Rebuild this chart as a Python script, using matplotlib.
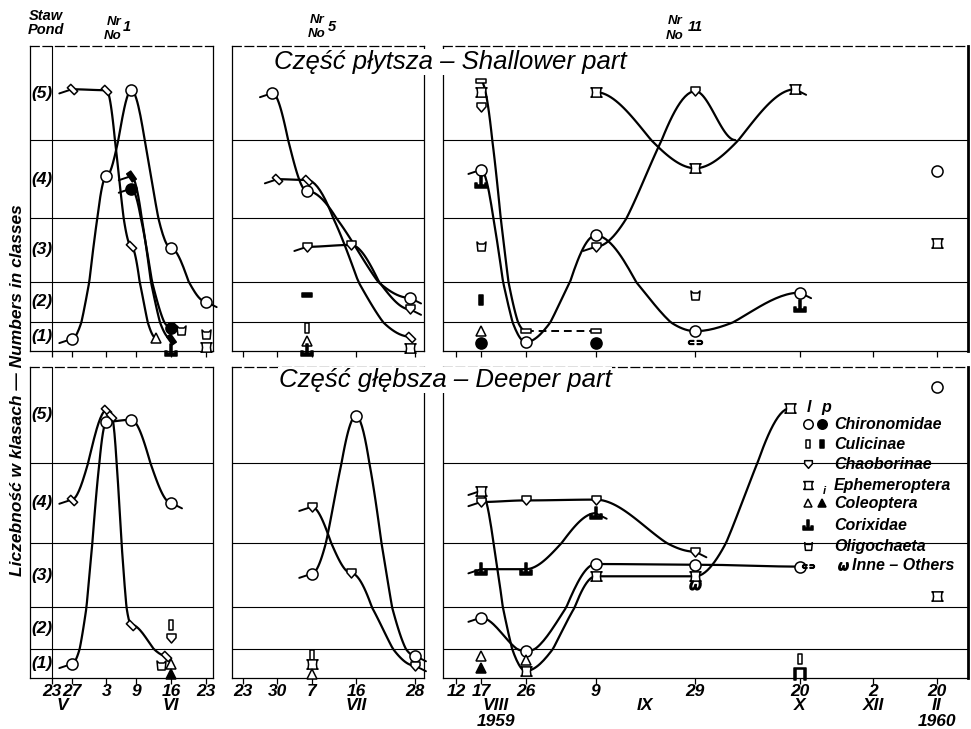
import numpy as np
import pandas as pd
import matplotlib
matplotlib.use("Agg")
import matplotlib.pyplot as plt
from matplotlib.path import Path
from matplotlib.markers import MarkerStyle
from matplotlib.transforms import Affine2D, blended_transform_factory

plt.rcParams['font.family'] = ['Liberation Sans', 'DejaVu Sans']

W, H = 971, 729
BASE = pd.Timestamp("1959-01-01")

# ---------------------------------------------------------------- data
CLASS_LABELS = ["(1)", "(2)", "(3)", "(4)", "(5)"]
CLASS_VALUES = [1, 2, 3, 4, 5]

# x tick dates / labels
p1_tick_dates = ["1959-05-23", "1959-05-27", "1959-06-03", "1959-06-09", "1959-06-16", "1959-06-23"]
p1_tick_labels = ["23", "27", "3", "9", "16", "23"]
p1_month_dates = ["1959-05-25", "1959-06-16"]
p1_month_labels = ["V", "VI"]
p5_tick_dates = ["1959-06-23", "1959-06-30", "1959-07-07", "1959-07-16", "1959-07-28"]
p5_tick_labels = ["23", "30", "7", "16", "28"]
p5_month_dates = ["1959-07-16"]
p5_month_labels = ["VII"]
p11_tick_dates = ["1959-08-12", "1959-08-17", "1959-08-26", "1959-09-09", "1959-09-29",
                  "1959-10-20", "1959-12-02", "1960-02-20"]
p11_tick_labels = ["12", "17", "26", "9", "29", "20", "2", "20"]
p11_month_dates = ["1959-08-20", "1959-09-19", "1959-10-20", "1959-12-02", "1960-02-20"]
p11_month_labels = ["VIII", "IX", "X", "XII", "II"]
p11_year_dates = ["1959-08-20", "1960-02-20"]
p11_year_labels = ["1959", "1960"]

# ---- Pond 1, shallower part
p1t_chiro_l_dates = ["1959-05-27", "1959-06-03", "1959-06-08", "1959-06-16", "1959-06-23"]
p1t_chiro_l_vals = [0.92, 4.04, 5.03, 3.03, 2.01]
p1t_chiro_p_dates = ["1959-06-08", "1959-06-16"]
p1t_chiro_p_vals = [3.88, 1.31]
p1t_culi_l_dates = ["1959-05-27", "1959-06-03", "1959-06-08", "1959-06-13"]
p1t_culi_l_vals = [5.04, 5.03, 3.06, 0.95]
p1t_culi_p_dates = ["1959-06-08", "1959-06-16"]
p1t_culi_p_vals = [4.04, 0.92]
p1t_pts_species = ["coleo_l", "oligo", "oligo", "ephem", "corix"]
p1t_pts_dates = ["1959-06-13", "1959-06-18", "1959-06-23", "1959-06-23", "1959-06-16"]
p1t_pts_vals = [0.95, 1.23, 1.10, 0.65, 0.55]

# ---- Pond 1, deeper part
p1b_chiro_l_dates = ["1959-05-27", "1959-06-03", "1959-06-08", "1959-06-16"]
p1b_chiro_l_vals = [0.98, 4.93, 4.95, 4.0]
p1b_culi_l_dates = ["1959-05-27", "1959-06-03", "1959-06-04", "1959-06-08", "1959-06-15"]
p1b_culi_l_vals = [4.04, 5.05, 4.99, 2.08, 1.26]
p1b_pts_species = ["oligo", "culi_l", "chaob", "coleo_l", "coleo_p"]
p1b_pts_dates = ["1959-06-14", "1959-06-16", "1959-06-16", "1959-06-16", "1959-06-16"]
p1b_pts_vals = [0.95, 2.08, 1.75, 0.98, 0.65]

# ---- Pond 5, shallower part
p5t_chiro_l_dates = ["1959-06-29", "1959-07-06", "1959-07-27"]
p5t_chiro_l_vals = [5.0, 3.85, 2.1]
p5t_culi_l_dates = ["1959-06-30", "1959-07-06", "1959-07-27"]
p5t_culi_l_vals = [4.0, 3.99, 1.0]
p5t_chaob_dates = ["1959-07-06", "1959-07-15", "1959-07-27"]
p5t_chaob_vals = [3.05, 3.08, 1.82]
p5t_pts_species = ["culi_ph", "culi_l", "coleo_l", "corix", "ephem"]
p5t_pts_dates = ["1959-07-06", "1959-07-06", "1959-07-06", "1959-07-06", "1959-07-27"]
p5t_pts_vals = [2.16, 1.30, 0.85, 0.55, 0.60]

# ---- Pond 5, deeper part
p5b_chiro_l_dates = ["1959-07-07", "1959-07-16", "1959-07-28"]
p5b_chiro_l_vals = [3.02, 4.99, 1.26]
p5b_chaob_dates = ["1959-07-07", "1959-07-15", "1959-07-28"]
p5b_chaob_vals = [3.95, 3.03, 0.92]
p5b_pts_species = ["culi_l", "ephem", "coleo_l"]
p5b_pts_dates = ["1959-07-07", "1959-07-07", "1959-07-07"]
p5b_pts_vals = [1.29, 0.98, 0.65]

# ---- Pond 11, shallower part
p11t_chiro_l_dates = ["1959-08-17", "1959-08-26", "1959-09-09", "1959-09-29", "1959-10-20"]
p11t_chiro_l_vals = [4.12, 0.81, 3.23, 1.19, 2.23]
p11t_culi_l_dates = ["1959-08-17", "1959-08-26", "1959-09-09"]
p11t_culi_l_vals = [5.13, 1.19, 1.19]
p11t_ephem_dates = ["1959-09-09", "1959-09-29", "1959-10-19"]
p11t_ephem_vals = [5.01, 4.14, 5.04]
p11t_chaob_dates = ["1959-09-09", "1959-09-29", "1959-10-07"]
p11t_chaob_vals = [3.05, 5.02, 4.5]
p11t_pts_species = ["ephem", "chaob", "corix", "oligo", "culi_p", "coleo_l", "chiro_p",
                    "chiro_p", "oligo", "oth_c", "corix", "chiro_l", "ephem"]
p11t_pts_dates = ["1959-08-17", "1959-08-17", "1959-08-17", "1959-08-17", "1959-08-17",
                  "1959-08-17", "1959-08-17", "1959-09-09", "1959-09-29", "1959-09-29",
                  "1959-10-20", "1960-02-20", "1960-02-20"]
p11t_pts_vals = [5.01, 4.85, 3.96, 3.06, 2.06, 1.19, 0.77, 0.77, 2.16, 0.80, 1.91, 4.11, 3.11]

# ---- Pond 11, deeper part
p11b_ephem_dates = ["1959-08-17", "1959-08-26", "1959-09-09", "1959-09-29", "1959-10-18"]
p11b_ephem_vals = [4.15, 0.74, 2.98, 2.98, 5.07]
p11b_chaob_dates = ["1959-08-17", "1959-08-26", "1959-09-09", "1959-09-29"]
p11b_chaob_vals = [4.01, 4.03, 4.04, 3.36]
p11b_corix_dates = ["1959-08-17", "1959-08-26", "1959-09-09"]
p11b_corix_vals = [3.09, 3.09, 3.87]
p11b_chiro_l_dates = ["1959-08-17", "1959-08-26", "1959-09-09", "1959-09-29", "1959-10-20"]
p11b_chiro_l_vals = [2.25, 1.41, 3.17, 3.16, 3.13]
p11b_pts_species = ["coleo_l", "coleo_p", "coleo_l", "oth_w", "culi_l", "oth_n", "chiro_l", "ephem"]
p11b_pts_dates = ["1959-08-17", "1959-08-17", "1959-08-26", "1959-09-29", "1959-10-20",
                  "1959-10-20", "1960-02-20", "1960-02-20"]
p11b_pts_vals = [1.26, 0.83, 1.10, 2.84, 1.14, 0.65, 5.29, 2.68]

LEGEND_NAMES = ["Chironomidae", "Culicinae", "Chaoborinae", "Ephemeroptera",
                "Coleoptera", "Corixidae", "Oligochaeta", "Inne – Others"]
LEGEND_L = ["chiro_l", "culi_l", "chaob", "ephem", "coleo_l", "corix", "oligo", "oth_c"]
LEGEND_P = ["chiro_p", "culi_p", None, None, "coleo_p", None, None, "oth_w"]


# ---------------------------------------------------------------- helpers
def days(dates):
    return np.array([(pd.Timestamp(s) - BASE).days for s in dates], float)


RECT = Path([(-0.5, -1), (0.5, -1), (0.5, 1), (-0.5, 1), (-0.5, -1)], closed=True)
SHIELD = Path([(-1, 1), (1, 1), (1, 0.15), (0, -1), (-1, 0.15), (-1, 1)], closed=True)
SPOOL = Path([(-1.2, 1), (1.2, 1), (0.95, 0.75), (0.85, 0), (0.95, -0.75), (1.2, -1),
              (-1.2, -1), (-0.95, -0.75), (-0.85, 0), (-0.95, 0.75), (-1.2, 1)], closed=True)
CUP = Path([(-1, 1), (-0.55, 0.55), (0.55, 0.55), (1, 1), (0.8, -1), (-0.8, -1), (-1, 1)],
           closed=True)
CORIX = Path([(-1, -1), (1, -1), (1, -0.15), (0.72, -0.15), (0.72, -0.55), (0.2, -0.55),
              (0.2, 1), (-0.2, 1), (-0.2, -0.55), (-0.72, -0.55), (-0.72, -0.15),
              (-1, -0.15), (-1, -1)], closed=True)

STYLE = {
    'chiro_l': ('o', 8.0, 'white', 0),
    'chiro_p': ('o', 8.0, 'black', 0),
    'culi_l': (RECT, 7.0, 'white', 0),
    'culi_p': (RECT, 7.0, 'black', 0),
    'culi_lh': (RECT, 7.0, 'white', 90),
    'culi_ph': (RECT, 7.0, 'black', 90),
    'chaob': (SHIELD, 6.5, 'white', 0),
    'ephem': (SPOOL, 8.0, 'white', 0),
    'coleo_l': ('^', 7.5, 'white', 0),
    'coleo_p': ('^', 7.5, 'black', 0),
    'corix': (CORIX, 8.0, 'black', 0),
    'oligo': (CUP, 6.5, 'white', 0),
    'oth_c': (r'$\subset\!\supset$', 10.0, 'black', 0),
    'oth_w': (r'$\omega$', 8.0, 'black', 0),
    'oth_n': (r'$\sqcap$', 9.0, 'black', 0),
}


def marker(sp, rot=None):
    m, s, fc, r = STYLE[sp]
    ang = r if rot is None else rot
    if ang:
        ms = MarkerStyle(m, transform=Affine2D().rotate_deg(ang))
    else:
        ms = MarkerStyle(m)
    return ms, s, fc


def plot_points(ax, species, xs, ys, rot=None, size_scale=1.0):
    for sp, x, y in zip(species, xs, ys):
        ms, s, fc = marker(sp, rot)
        ax.plot([x], [y], linestyle='none', marker=ms, markersize=s * size_scale,
                markerfacecolor=fc, markeredgecolor='black', markeredgewidth=1.1,
                zorder=6, clip_on=False)


def smooth(x, y, n=40):
    xs, ys = [x[0]], [y[0]]
    t = np.linspace(0, 1, n)[1:]
    s = t * t * (3 - 2 * t)
    for i in range(len(x) - 1):
        xs.extend(x[i] + (x[i + 1] - x[i]) * t)
        ys.extend(y[i] + (y[i + 1] - y[i]) * s)
    return np.array(xs), np.array(ys)


def tail(ax, x, y, dx, dy):
    ax.annotate('', xy=(x, y), xycoords='data', xytext=(dx, dy), textcoords='offset points',
                arrowprops=dict(arrowstyle='-', lw=1.4, color='black', shrinkA=0, shrinkB=0),
                zorder=3)


def draw_series(ax, sp, dates, vals, tails=(False, False), rot=None, nmark=None,
                dash_from=None):
    x = days(dates)
    y = np.asarray(vals, float)
    if dash_from is None:
        cx, cy = smooth(x, y)
        ax.plot(cx, cy, color='black', lw=1.6, zorder=3, solid_capstyle='round')
    else:
        cx, cy = smooth(x[:dash_from + 1], y[:dash_from + 1])
        ax.plot(cx, cy, color='black', lw=1.6, zorder=3)
        ax.plot(x[dash_from:], y[dash_from:], color='black', lw=1.4, ls=(0, (4, 2.5)),
                zorder=3)
    if tails[0]:
        tail(ax, x[0], y[0], -9, -3)
    if tails[1]:
        tail(ax, x[-1], y[-1], 8, -4)
    k = len(x) if nmark is None else nmark
    plot_points(ax, [sp] * k, x[:k], y[:k], rot=rot)


# ---------------------------------------------------------------- figure
fig = plt.figure(figsize=(W / 100, H / 100), dpi=100)
fig.patch.set_facecolor('white')

COLS = [(30, 213), (232, 424), (443, 968)]
ROWS = [(46, 351), (367, 678)]

EDGE_VALS = [0.5, 1.5, 2.5, 3.5, 4.5, 5.5]
EDGE_POS = [0, 29, 70, 134, 213, 308]


def yf(v):
    return np.interp(v, EDGE_VALS, EDGE_POS)


def yi(p):
    return np.interp(p, EDGE_POS, EDGE_VALS)


P11_DAYS = [220.4, 292.0, 335.0, 415.0, 454.0]
P11_POS = [443.0, 800.0, 873.0, 937.0, 968.0]


def xf(d):
    return np.interp(d, P11_DAYS, P11_POS)


def xi(p):
    return np.interp(p, P11_POS, P11_DAYS)


XLIMS = [(137.56, 174.5), (170.76, 209.86), (220.4, 454.0)]
TICKS = [(p1_tick_dates, p1_tick_labels), (p5_tick_dates, p5_tick_labels),
         (p11_tick_dates, p11_tick_labels)]
MONTHS = [(p1_month_dates, p1_month_labels), (p5_month_dates, p5_month_labels),
          (p11_month_dates, p11_month_labels)]

LINES = {
    (0, 0): [dict(sp='chiro_l', dates=p1t_chiro_l_dates, vals=p1t_chiro_l_vals, tails=(1, 1)),
             dict(sp='chiro_p', dates=p1t_chiro_p_dates, vals=p1t_chiro_p_vals, tails=(1, 0)),
             dict(sp='culi_l', dates=p1t_culi_l_dates, vals=p1t_culi_l_vals, tails=(1, 0),
                  rot=45, nmark=3),
             dict(sp='culi_p', dates=p1t_culi_p_dates, vals=p1t_culi_p_vals, tails=(1, 0),
                  rot=35)],
    (1, 0): [dict(sp='chiro_l', dates=p1b_chiro_l_dates, vals=p1b_chiro_l_vals, tails=(1, 1)),
             dict(sp='culi_l', dates=p1b_culi_l_dates, vals=p1b_culi_l_vals, tails=(1, 0),
                  rot=45)],
    (0, 1): [dict(sp='chiro_l', dates=p5t_chiro_l_dates, vals=p5t_chiro_l_vals, tails=(1, 1)),
             dict(sp='culi_l', dates=p5t_culi_l_dates, vals=p5t_culi_l_vals, tails=(1, 0),
                  rot=45),
             dict(sp='chaob', dates=p5t_chaob_dates, vals=p5t_chaob_vals, tails=(1, 1))],
    (1, 1): [dict(sp='chiro_l', dates=p5b_chiro_l_dates, vals=p5b_chiro_l_vals, tails=(1, 1)),
             dict(sp='chaob', dates=p5b_chaob_dates, vals=p5b_chaob_vals, tails=(1, 1))],
    (0, 2): [dict(sp='chiro_l', dates=p11t_chiro_l_dates, vals=p11t_chiro_l_vals, tails=(1, 1)),
             dict(sp='culi_lh', dates=p11t_culi_l_dates, vals=p11t_culi_l_vals, dash_from=1),
             dict(sp='ephem', dates=p11t_ephem_dates, vals=p11t_ephem_vals, tails=(0, 1)),
             dict(sp='chaob', dates=p11t_chaob_dates, vals=p11t_chaob_vals, tails=(1, 0),
                  nmark=2)],
    (1, 2): [dict(sp='ephem', dates=p11b_ephem_dates, vals=p11b_ephem_vals, tails=(1, 0)),
             dict(sp='chaob', dates=p11b_chaob_dates, vals=p11b_chaob_vals, tails=(1, 1)),
             dict(sp='corix', dates=p11b_corix_dates, vals=p11b_corix_vals, tails=(1, 1)),
             dict(sp='chiro_l', dates=p11b_chiro_l_dates, vals=p11b_chiro_l_vals, tails=(1, 0))],
}
POINTS = {
    (0, 0): (p1t_pts_species, p1t_pts_dates, p1t_pts_vals),
    (1, 0): (p1b_pts_species, p1b_pts_dates, p1b_pts_vals),
    (0, 1): (p5t_pts_species, p5t_pts_dates, p5t_pts_vals),
    (1, 1): (p5b_pts_species, p5b_pts_dates, p5b_pts_vals),
    (0, 2): (p11t_pts_species, p11t_pts_dates, p11t_pts_vals),
    (1, 2): (p11b_pts_species, p11b_pts_dates, p11b_pts_vals),
}

TICKFONT = dict(family=['Liberation Sans', 'DejaVu Sans'], style='italic', weight='bold',
                size=12.5)

for r, (y0, y1) in enumerate(ROWS):
    for c, (x0, x1) in enumerate(COLS):
        ax = fig.add_axes([x0 / W, 1 - y1 / H, (x1 - x0) / W, (y1 - y0) / H])
        ax.set_yscale('function', functions=(yf, yi))
        if c == 2:
            ax.set_xscale('function', functions=(xf, xi))
        ax.set_xlim(*XLIMS[c])
        ax.set_ylim(0.5, 5.5)
        ax.set_yticks([])
        for sname, sp in ax.spines.items():
            sp.set_linewidth(0.9)
        ax.spines['top'].set_linestyle((0, (7, 3)))
        if c == 2:
            ax.spines['right'].set_linewidth(2.0)
        for e in EDGE_VALS[1:-1]:
            ax.axhline(e, color='black', lw=0.8, zorder=1)
        td, tl = TICKS[c]
        ax.set_xticks(days(td))
        ax.tick_params(axis='x', direction='out', length=4, width=0.9, pad=0.5)
        if r == 1:
            ax.set_xticklabels(tl)
            for lab in ax.get_xticklabels():
                lab.set_fontproperties(TICKFONT)
            md, ml = MONTHS[c]
            for d, t in zip(days(md), ml):
                ax.annotate(t, xy=(d, 0), xycoords=('data', 'axes fraction'),
                            xytext=(0, -19.5), textcoords='offset points', ha='center',
                            va='center', **{k: v for k, v in TICKFONT.items()})
            if c == 2:
                for d, t in zip(days(p11_year_dates), p11_year_labels):
                    ax.annotate(t, xy=(d, 0), xycoords=('data', 'axes fraction'),
                                xytext=(0, -31), textcoords='offset points', ha='center',
                                va='center', **{k: v for k, v in TICKFONT.items()})
        else:
            ax.set_xticklabels([])
        if c == 0:
            ax.axvline(days(["1959-05-23"])[0], color='black', lw=0.8, zorder=1)
            tr = blended_transform_factory(ax.transAxes, ax.transData)
            for v, t in zip(CLASS_VALUES, CLASS_LABELS):
                ax.text(0.063, v, t, transform=tr, ha='center', va='center',
                        fontsize=12.5, style='italic', weight='bold')
        for spec in LINES[(r, c)]:
            spec = dict(spec)
            draw_series(ax, spec.pop('sp'), spec.pop('dates'), spec.pop('vals'), **spec)
        sps, pds, pvs = POINTS[(r, c)]
        plot_points(ax, sps, days(pds), pvs)

# ---------------------------------------------------------------- overlay texts
ov = fig.add_axes([0, 0, 1, 1])
ov.set_xlim(0, W)
ov.set_ylim(H, 0)
ov.axis('off')
ov.patch.set_alpha(0)

bi = dict(style='italic', weight='bold')
ov.text(46, 16, "Staw", ha='center', va='center', fontsize=10.5, **bi)
ov.text(46, 30, "Pond", ha='center', va='center', fontsize=10.5, **bi)
for (xn, yn, xo, yo, xnum, ynum, num) in [(114, 22, 113, 36, 127, 27, "1"),
                                          (317, 20, 317, 34, 332, 27, "5"),
                                          (675, 21, 675, 36, 695, 27, "11")]:
    ov.text(xn, yn, "Nr", ha='center', va='center', fontsize=9.5, **bi)
    ov.text(xo, yo, "No", ha='center', va='center', fontsize=9.5, **bi)
    ov.text(xnum, ynum, num, ha='center', va='center', fontsize=10.5, **bi)

wb = dict(facecolor='white', edgecolor='none', pad=0.5)
ov.text(450, 62, "Część płytsza – Shallower part", ha='center', va='center',
        fontsize=18.5, style='italic', bbox=wb)
ov.text(445, 380, "Część głębsza – Deeper part", ha='center', va='center',
        fontsize=18.5, style='italic', bbox=wb)
ov.text(18, 390, "Liczebność w klasach — Numbers in classes", rotation=90,
        ha='center', va='center', fontsize=12.5, **bi)

# legend
LEG_Y = [424, 444, 464, 485, 503, 525, 546, 566]
ov.text(809, 407, "l", ha='center', va='center', fontsize=11.5, **bi)
ov.text(826, 407, "p", ha='center', va='center', fontsize=11.5, **bi)
for i, (name, lsp, psp) in enumerate(zip(LEGEND_NAMES, LEGEND_L, LEGEND_P)):
    y = LEG_Y[i]
    plot_points(ov, [lsp], [808], [y], size_scale=0.85)
    if psp is not None:
        px = 843 if psp == 'oth_w' else 822
        plot_points(ov, [psp], [px], [y], size_scale=0.85)
    tx = 852 if i == len(LEGEND_NAMES) - 1 else 834
    ov.text(tx, y, name, ha='left', va='center', fontsize=11.5, **bi)
ov.text(824, 491, "i", ha='center', va='center', fontsize=8, **bi)

fig.savefig("out.png", dpi=100, facecolor='white')
